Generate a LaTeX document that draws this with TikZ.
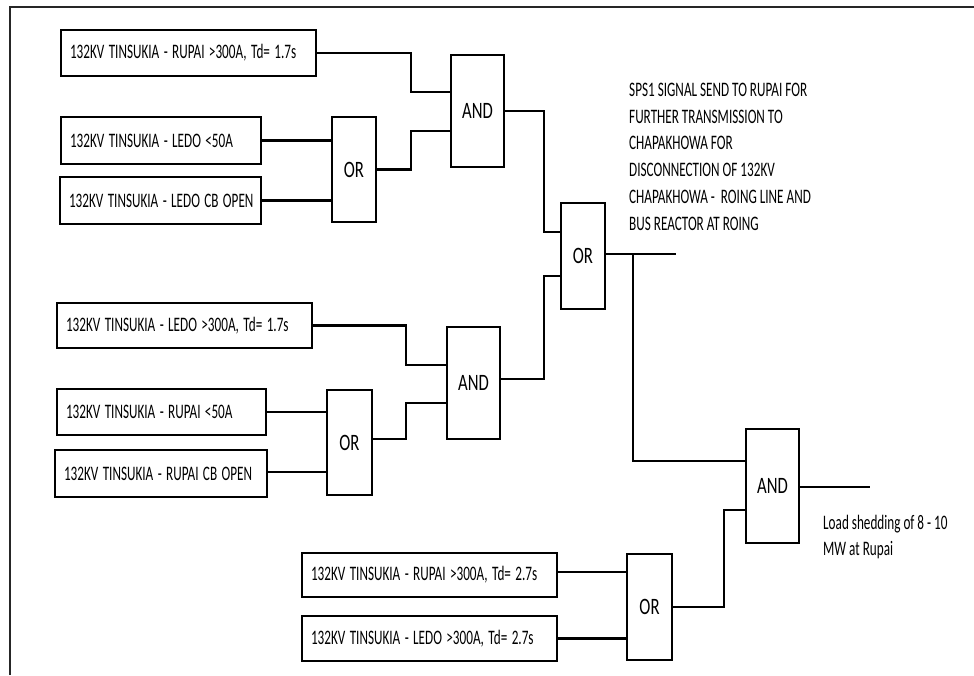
\documentclass[tikz,border=0pt]{standalone}
\usepackage{fontspec}
\setmainfont{Carlito}
\newcommand{\sqz}[1]{\scalebox{0.64}[1]{#1}}
\newcommand{\sqg}[1]{\scalebox{0.71}[1]{#1}}
\begin{document}
\begin{tikzpicture}[x=1pt,y=-1pt,
  lbox/.style={draw, line width=2.6pt, inner xsep=9pt, inner ysep=0pt, align=left,
    font=\fontsize{20.6}{24}\selectfont, text width=#1},
  gate/.style={draw, line width=2.6pt, inner sep=0pt, font=\fontsize{23.5}{26}\selectfont},
  wire/.style={line width=2.2pt},
  note/.style={inner sep=0pt, align=left, font=\fontsize{20.6}{26.7}\selectfont}]
\useasboundingbox (0,0) rectangle (974,675);
\draw[line width=1.5pt, black!85] (10,675) -- (10,7) -- (974,7);

% input boxes
\node[lbox=237pt, minimum height=46pt] (b1) at (188.5,53) {\sqz{132KV TINSUKIA - RUPAI >300A, Td= 1.7s}};
\node[lbox=182pt, minimum height=47pt] (b2) at (161,140.5) {\sqz{132KV TINSUKIA - LEDO <50A}};
\node[lbox=183pt, minimum height=47pt] (b3) at (160.5,200.5) {\sqz{132KV TINSUKIA - LEDO CB OPEN}};
\node[lbox=237pt, minimum height=45pt] (b4) at (184.5,325.5) {\sqz{132KV TINSUKIA - LEDO >300A, Td= 1.7s}};
\node[lbox=191pt, minimum height=46pt] (b5) at (161.5,412) {\sqz{132KV TINSUKIA - RUPAI <50A}};
\node[lbox=194pt, minimum height=47pt] (b6) at (161,473.5) {\sqz{132KV TINSUKIA - RUPAI CB OPEN}};
\node[lbox=237pt, minimum height=44pt] (b7) at (429.5,575) {\sqz{132KV TINSUKIA - RUPAI >300A, Td= 2.7s}};
\node[lbox=237pt, minimum height=45pt] (b8) at (429.5,638.5) {\sqz{132KV TINSUKIA - LEDO >300A, Td= 2.7s}};

% gates
\node[gate, minimum width=44pt, minimum height=105pt] (or1) at (354,169.5) {\sqg{OR}};
\node[gate, minimum width=53pt, minimum height=112pt] (and1) at (477.5,111) {\sqg{AND}};
\node[gate, minimum width=44pt, minimum height=106pt] (or2) at (583,256) {\sqg{OR}};
\node[gate, minimum width=53pt, minimum height=112pt] (and2) at (473.5,383) {\sqg{AND}};
\node[gate, minimum width=45pt, minimum height=105pt] (or4) at (349.5,442.5) {\sqg{OR}};
\node[gate, minimum width=53pt, minimum height=114pt] (and3) at (772.5,486) {\sqg{AND}};
\node[gate, minimum width=45pt, minimum height=106pt] (or3) at (649.5,607) {\sqg{OR}};

% texts
\node[note, anchor=north west] (sps) at (629,83) {\sqz{SPS1 SIGNAL SEND TO RUPAI FOR}\\
  \sqz{FURTHER TRANSMISSION TO}\\
  \sqz{CHAPAKHOWA FOR}\\
  \sqz{DISCONNECTION OF 132KV}\\
  \sqz{CHAPAKHOWA -~ ROING LINE AND}\\
  \sqz{BUS REACTOR AT ROING}};
\node[note, anchor=north west, font=\fontsize{20.6}{26}\selectfont] (load) at (823,515)
  {\sqz{Load shedding of 8 - 10}\\ \sqz{MW at Rupai}};

% connectors
\draw[wire] (b1.east) -- ([xshift=94pt]b1.east) |- ([yshift=19pt]and1.west);
\draw[wire] (b2.east) -- (b2.east -| or1.west);
\draw[wire] (b3.east) -- (b3.east -| or1.west);
\draw[wire] (or1.east) -- ([xshift=34pt]or1.east) |- ([yshift=-20pt]and1.west);
\draw[wire] (and1.east) -- ([xshift=39pt]and1.east) |- ([yshift=24pt]or2.west);
\draw[wire] ([yshift=4pt]and2.east) -- ([xshift=43pt,yshift=4pt]and2.east) |- ([yshift=-20pt]or2.west);
\draw[wire] (b4.east) -- ([xshift=93pt]b4.east) |- ([yshift=18pt]and2.west);
\draw[wire] (b5.east) -- (b5.east -| or4.west);
\draw[wire] ([yshift=1.5pt]b6.east) -- ([yshift=1.5pt]b6.east -| or4.west);
\draw[wire] ([yshift=3.5pt]or4.east) -- ([xshift=33pt,yshift=3.5pt]or4.east) |- ([yshift=-20pt]and2.west);
\draw[wire] ([yshift=2pt]or2.east) -- ([xshift=70pt,yshift=2pt]or2.east) coordinate (out1);
\draw[wire] ([xshift=27pt,yshift=2pt]or2.east) |- ([yshift=25pt]and3.west);
\draw[wire] ([yshift=3pt]b7.east) -- ([yshift=3pt]b7.east -| or3.west);
\draw[wire] (b8.east) -- (b8.east -| or3.west);
\draw[wire] (or3.east) -- ([xshift=51pt]or3.east) |- ([yshift=-24pt]and3.west);
\draw[wire] ([yshift=-1pt]and3.east) -- ([xshift=70pt,yshift=-1pt]and3.east) coordinate (out2);
\end{tikzpicture}
\end{document}
